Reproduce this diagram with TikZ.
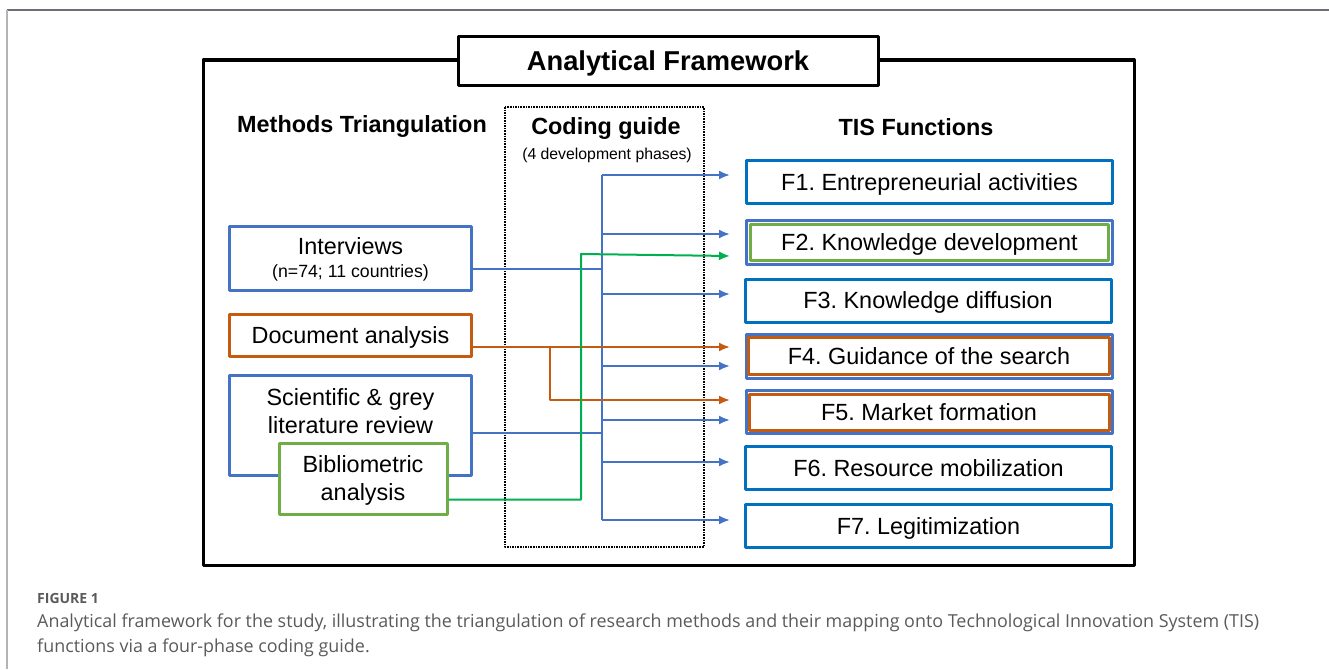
\documentclass[tikz,border=0pt]{standalone}
\usepackage{fontspec}
\setmainfont{Liberation Sans}
\newfontfamily\capfont{Open Sans}
\usetikzlibrary{arrows.meta}
\definecolor{lblue}{HTML}{4472C4}
\definecolor{dblue}{HTML}{0070C0}
\definecolor{rust}{HTML}{C55A11}
\definecolor{leaf}{HTML}{70AD47}
\definecolor{lime}{HTML}{00B050}
\definecolor{capgray}{HTML}{5A5A5A}
\tikzset{>={Latex[length=11pt,width=9pt]}}
\tikzset{mbox/.style={draw=#1, line width=3pt, fill=white, align=center,
    inner sep=0pt, text depth=0pt, font=\fontsize{23.4}{28}\selectfont}
}
\tikzset{fbox/.style={mbox=#1, minimum width=366pt, minimum height=43pt}}
\tikzset{cline/.style={draw=#1, line width=2pt}}
\tikzset{head/.style={inner sep=0pt, font=\fontsize{23.4}{28}\selectfont\bfseries}}
\frenchspacing

\begin{document}
\begin{tikzpicture}[x=1pt, y=-1pt, line join = round]
\useasboundingbox (0,0) rectangle (1329,669);

% page edge
\draw[color={rgb,255:red,110;green,110;blue,120}, line width=1.5pt] (7,10) -- (1329,10);
\draw[color={rgb,255:red,180;green,180;blue,184}, line width=2pt] (7,10) -- (7,669);

% frame and title
\draw[line width=3pt] (203,60) rectangle (1134,565);
\node[mbox=black, minimum width=420pt, minimum height=48pt,
      font=\fontsize{27.3}{32}\selectfont\bfseries] (title) at (668,61) {Analytical Framework};
\draw[line width=1.6pt, densely dotted] (505,107) rectangle (704,547);

\node[head] (mhead) at (362,127) {Methods Triangulation};
\node[head] (chead) at (606,129) {Coding guide};
\node[inner sep=0pt, font=\fontsize{15.8}{18}\selectfont] (phases) at (607,155) {(4 development phases)};
\node[head] (thead) at (916,127) {TIS Functions};

% methods
\node[mbox=lblue, minimum width=242pt, minimum height=64pt] (int) at (350.5,258)
  {Interviews\\[-5pt]{\fontsize{17.7}{20}\selectfont (n=74; 11 countries)}};
\node[mbox=rust, minimum width=242pt, minimum height=42pt] (doc) at (350.5,335) {Document analysis};
\node[mbox=lblue, minimum width=242pt, minimum height=100pt] (sci) at (350.5,425) {};
\node[inner sep=0pt, align=center, font=\fontsize{23.4}{28}\selectfont] (scitxt) at (350.5,411)
  {Scientific \& grey\\literature review};
\node[mbox=leaf, minimum width=168pt, minimum height=71pt] (bib) at (363,478.5) {Bibliometric\\analysis};

% functions
\node[fbox=dblue] (f1) at (929.5,182) {F1. Entrepreneurial activities};
\node[fbox=lblue, minimum height=44pt] (f2) at (929.5,242.5) {};
\node[mbox=leaf, minimum width=358pt, minimum height=36pt] (f2in) at (f2) {F2. Knowledge development};
\node[fbox=dblue] (f3) at (928,300.5) {F3. Knowledge diffusion};
\node[fbox=lblue, minimum height=44pt] (f4) at (929,356) {};
\node[mbox=rust, minimum width=361pt, minimum height=37pt] (f4in) at (f4) {F4. Guidance of the search};
\node[fbox=lblue] (f5) at (929,412) {};
\node[mbox=rust, minimum width=360pt, minimum height=36pt] (f5in) at (f5) {F5. Market formation};
\node[fbox=dblue] (f6) at (928.5,468) {F6. Resource mobilization};
\node[fbox=dblue] (f7) at (928.5,526) {F7. Legitimization};

% blue bus
\coordinate (bt) at (602,175);
\coordinate (bb) at (602,520);
\draw[cline=lblue] (bt) -- (bb);
\draw[cline=lblue] ([yshift=-11pt]int.east) -- ([yshift=-11pt]int.east -| bt);
\draw[cline=lblue] ([yshift=-8pt]sci.east) -- ([yshift=-8pt]sci.east -| bt);
\foreach \y/\n in {175/1,234/2,294/3,366/4,420/5,462/6,520/7}{
  \coordinate (b\n) at (602,\y);
  \coordinate (t\n) at (730,\y);
  \draw[->, cline=lblue] (b\n) -- (t\n);
}

% orange branch
\coordinate (o4) at (730,347);
\coordinate (o5) at (730,400);
\coordinate (ob) at (550,347);
\draw[->, cline=rust] ([yshift=-12pt]doc.east) -- (o4);
\draw[->, cline=rust] (ob) |- (o5);

% green line
\coordinate (gk) at (581,254);
\coordinate (g2) at (730,256);
\draw[->, cline=lime] ([yshift=-21pt]bib.east) -| (gk) -- (g2);

% caption
\node[anchor=base west, inner sep=0pt, text=capgray, font=\capfont\bfseries\fontsize{14}{16}\selectfont]
  (fig) at (37,603) {FIGURE 1};
\node[anchor=base west, inner sep=0pt, text=capgray, font=\capfont\fontsize{17.9}{25}\selectfont]
  (cap1) at (37,627) {Analytical framework for the study, illustrating the triangulation of research methods and their mapping onto Technological Innovation System (TIS)};
\node[anchor=base west, inner sep=0pt, text=capgray, font=\capfont\fontsize{17.9}{25}\selectfont]
  (cap2) at (37,652) {functions via a four-phase coding guide.};
\end{tikzpicture}
\end{document}
